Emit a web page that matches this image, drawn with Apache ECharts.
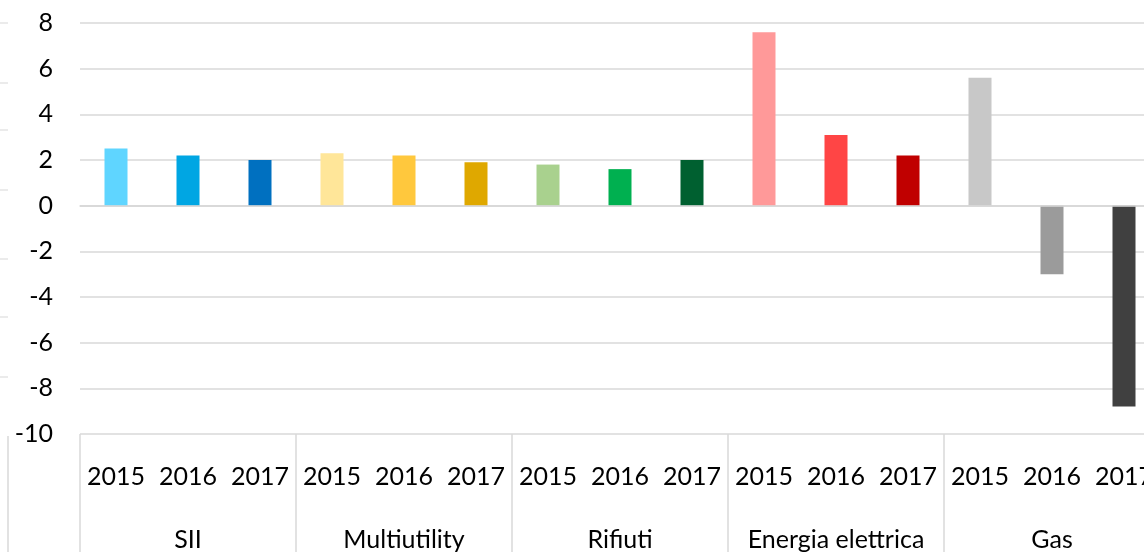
<!DOCTYPE html>
<html>
<head>
<meta charset="utf-8">
<script src="https://cdn.jsdelivr.net/npm/echarts@6/dist/echarts.min.js"></script>
<style>
html,body{margin:0;padding:0;background:#fff;overflow:hidden;}
#c{width:1170px;height:552px;}
</style>
</head>
<body>
<div id="c"></div>
<script>
var groups = ['SII', 'Multiutility', 'Rifiuti', 'Energia elettrica', 'Gas'];
var years = ['2015', '2016', '2017'];
var values = [2.5, 2.2, 2.0, 2.3, 2.2, 1.9, 1.8, 1.6, 2.0, 7.6, 3.1, 2.2, 5.6, -3.0, -8.8];
var colors = ['#5FD5FF', '#00A6E3', '#0070C0', '#FFE699', '#FFC83D', '#DFA800',
              '#A9D18E', '#00B050', '#006030', '#FF9999', '#FF4545', '#C00000',
              '#C8C8C8', '#9B9B9B', '#404040'];
var yTicks = { min: -10, max: 8, interval: 2 };

var cats = [];
groups.forEach(function (g) { years.forEach(function (y) { cats.push(y); }); });

var FONT = 'Lato';
var chart = echarts.init(document.getElementById('c'), null, { renderer: 'canvas' });
chart.setOption({
  animation: false,
  backgroundColor: '#fff',
  grid: { left: 80, top: 23, right: 10, bottom: 117, containLabel: false },
  xAxis: [{
    type: 'category',
    data: cats,
    position: 'bottom',
    axisLine: { show: true, lineStyle: { color: '#D9D9D9', width: 1.5 } },
    axisTick: { show: false },
    axisLabel: { color: '#000', fontFamily: FONT, fontSize: 25, margin: 30, interval: 0 }
  }, {
    type: 'category',
    data: groups,
    position: 'bottom',
    axisLine: { show: false },
    axisTick: { show: true, length: 120, lineStyle: { color: '#D9D9D9', width: 1.5 } },
    axisLabel: { color: '#000', fontFamily: FONT, fontSize: 25, margin: 93, interval: 0 }
  }],
  yAxis: {
    type: 'value',
    min: yTicks.min, max: yTicks.max, interval: yTicks.interval,
    axisLine: { show: false },
    axisTick: { show: false },
    splitLine: { show: true, lineStyle: { color: '#D9D9D9', width: 1.5 } },
    axisLabel: { color: '#000', fontFamily: FONT, fontSize: 25, margin: 27 }
  },
  graphic: [
    { type: 'line', shape: { x1: 8, y1: 436, x2: 8, y2: 552 }, style: { stroke: '#D9D9D9', lineWidth: 1.5 } },
    { type: 'line', shape: { x1: 0, y1: 23, x2: 8, y2: 23 }, style: { stroke: '#E4E4E4', lineWidth: 1.5 } },
    { type: 'line', shape: { x1: 0, y1: 83, x2: 8, y2: 83 }, style: { stroke: '#E4E4E4', lineWidth: 1.5 } },
    { type: 'line', shape: { x1: 0, y1: 130, x2: 8, y2: 130 }, style: { stroke: '#E4E4E4', lineWidth: 1.5 } },
    { type: 'line', shape: { x1: 0, y1: 190, x2: 8, y2: 190 }, style: { stroke: '#E4E4E4', lineWidth: 1.5 } },
    { type: 'line', shape: { x1: 0, y1: 259, x2: 8, y2: 259 }, style: { stroke: '#E4E4E4', lineWidth: 1.5 } },
    { type: 'line', shape: { x1: 0, y1: 317, x2: 8, y2: 317 }, style: { stroke: '#E4E4E4', lineWidth: 1.5 } },
    { type: 'line', shape: { x1: 0, y1: 377, x2: 8, y2: 377 }, style: { stroke: '#E4E4E4', lineWidth: 1.5 } }
  ],
  series: [{
    type: 'bar',
    xAxisIndex: 0,
    barWidth: 23,
    data: values.map(function (v, i) { return { value: v, itemStyle: { color: colors[i] } }; }),
    markLine: {
      silent: true,
      symbol: 'none',
      label: { show: false },
      lineStyle: { color: '#D9D9D9', width: 1.5, type: 'solid' },
      data: [{ yAxis: 0 }]
    }
  }]
});
</script>
</body>
</html>
